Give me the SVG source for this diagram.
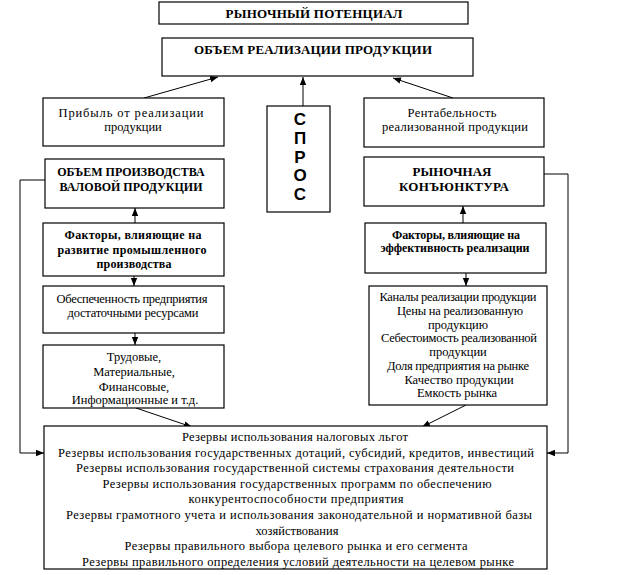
<svg xmlns="http://www.w3.org/2000/svg" width="625" height="575" viewBox="0 0 625 575">
<defs>
<marker id="ah" markerUnits="userSpaceOnUse" markerWidth="8" markerHeight="8" viewBox="0 0 8 8" refX="8" refY="4" orient="auto">
<path d="M0,0.8 L8,4 L0,7.2 Z" fill="#000"/>
</marker>
<style>
rect{fill:#fff;stroke:#000;stroke-width:1.2}
.t text{fill:#000;text-anchor:middle}
.b{font-weight:bold;font-size:13px}
.b2{font-weight:bold;font-size:12px}
.r{font-size:12.5px}
.f{font-weight:bold;font-size:12px}
.s{font-weight:bold;font-size:17px}
#conn path{fill:none;stroke:#000;stroke-width:1}
</style>
</defs>
<rect width="625" height="575" style="fill:#fff;stroke:none"/>

<g id="conn">
<path d="M144,98 L218,77" marker-end="url(#ah)"/>
<path d="M303,106 L303,77" marker-end="url(#ah)"/>
<path d="M453,98 L393,78" marker-end="url(#ah)"/>
<path d="M135,223 L135,208" marker-end="url(#ah)"/>
<path d="M134,276 L134,286" marker-end="url(#ah)"/>
<path d="M135,333 L135,345" marker-end="url(#ah)"/>
<path d="M463,223 L463,206" marker-end="url(#ah)"/>
<path d="M466,273 L466,286" marker-end="url(#ah)"/>
<path d="M136,408 L192,427" marker-end="url(#ah)"/>
<path d="M466,405 L422,427" marker-end="url(#ah)"/>
<path d="M45,180 L20,180 L20,453 L44,453" marker-end="url(#ah)"/>
<path d="M544,174 L568,174 L568,453 L547,453" marker-end="url(#ah)"/>
</g>

<g class="t" font-family="Times New Roman, Liberation Serif, serif">
<g id="potential">
<rect x="159" y="2" width="309" height="22"/>
<text class="b" x="314" y="18" textLength="177" lengthAdjust="spacing">РЫНОЧНЫЙ ПОТЕНЦИАЛ</text>
</g>

<g id="sales-volume">
<rect x="162" y="38" width="311" height="38"/>
<text class="b" x="313" y="54" textLength="238" lengthAdjust="spacing">ОБЪЕМ РЕАЛИЗАЦИИ ПРОДУКЦИИ</text>
</g>

<g id="profit">
<rect x="43" y="98" width="181" height="48"/>
<text class="r" x="131" y="117" textLength="145" lengthAdjust="spacing">Прибыль от реализации</text>
<text class="r" x="133" y="131">продукции</text>
</g>

<g id="demand" font-family="Arial, Liberation Sans, sans-serif">
<rect x="267" y="106" width="63" height="106"/>
<text class="s" x="300" y="125">С</text>
<text class="s" x="300" y="144">П</text>
<text class="s" x="300" y="163">Р</text>
<text class="s" x="300" y="181">О</text>
<text class="s" x="300" y="200">С</text>
</g>

<g id="profitability">
<rect x="364" y="98" width="180" height="49"/>
<text class="r" x="452" y="117" textLength="89" lengthAdjust="spacing">Рентабельность</text>
<text class="r" x="455" y="131" textLength="146" lengthAdjust="spacing">реализованной продукции</text>
</g>

<g id="production-volume">
<rect x="45" y="159" width="179" height="49"/>
<text class="b2" x="131" y="176">ОБЪЕМ ПРОИЗВОДСТВА</text>
<text class="b2" x="131" y="191">ВАЛОВОЙ ПРОДУКЦИИ</text>
</g>

<g id="market-conditions">
<rect x="364" y="157" width="180" height="49"/>
<text class="b" x="452" y="176" textLength="79" lengthAdjust="spacing">РЫНОЧНАЯ</text>
<text class="b" x="454" y="191" textLength="110" lengthAdjust="spacing">КОНЪЮНКТУРА</text>
</g>

<g id="factors-production">
<rect x="43" y="223" width="181" height="53"/>
<text class="f" x="133" y="239" textLength="137" lengthAdjust="spacing">Факторы, влияющие на</text>
<text class="f" x="132" y="254" textLength="149" lengthAdjust="spacing">развитие промышленного</text>
<text class="f" x="134" y="268" textLength="75" lengthAdjust="spacing">производства</text>
</g>

<g id="resources">
<rect x="43" y="286" width="181" height="47"/>
<text class="r" x="132" y="303" textLength="151" lengthAdjust="spacing">Обеспеченность предприятия</text>
<text class="r" x="133" y="317" textLength="131" lengthAdjust="spacing">достаточными ресурсами</text>
</g>

<g id="resource-types">
<rect x="43" y="345" width="181" height="63"/>
<text class="r" x="134" y="361">Трудовые,</text>
<text class="r" x="134" y="376">Материальные,</text>
<text class="r" x="134" y="391">Финансовые,</text>
<text class="r" x="135" y="404">Информационные и т.д.</text>
</g>

<g id="factors-sales">
<rect x="365" y="223" width="181" height="50"/>
<text class="f" x="456" y="239" textLength="128" lengthAdjust="spacing">Факторы, влияющие на</text>
<text class="f" x="455" y="252" textLength="149" lengthAdjust="spacing">эффективность реализации</text>
</g>

<g id="sales-factors-list">
<rect x="369" y="286" width="178" height="119"/>
<text class="r" x="458" y="301" textLength="157" lengthAdjust="spacing">Каналы реализации продукции</text>
<text class="r" x="460" y="315" textLength="126" lengthAdjust="spacing">Цены на реализованную</text>
<text class="r" x="458" y="329">продукцию</text>
<text class="r" x="459" y="342" textLength="156" lengthAdjust="spacing">Себестоимость реализованной</text>
<text class="r" x="458" y="356">продукции</text>
<text class="r" x="458" y="370" textLength="142" lengthAdjust="spacing">Доля предприятия на рынке</text>
<text class="r" x="459" y="384">Качество продукции</text>
<text class="r" x="457" y="397">Емкость рынка</text>
</g>

<g id="reserves">
<rect x="44" y="426" width="503" height="143"/>
<text class="r" x="295" y="441" textLength="226" lengthAdjust="spacing">Резервы использования налоговых льгот</text>
<text class="r" x="296" y="457" textLength="476" lengthAdjust="spacing">Резервы использования государственных дотаций, субсидий, кредитов, инвестиций</text>
<text class="r" x="295" y="472" textLength="438" lengthAdjust="spacing">Резервы использования государственной системы страхования деятельности</text>
<text class="r" x="297" y="488" textLength="389" lengthAdjust="spacing">Резервы использования государственных программ по обеспечению</text>
<text class="r" x="296" y="503" textLength="215" lengthAdjust="spacing">конкурентоспособности предприятия</text>
<text class="r" x="299" y="519" textLength="466" lengthAdjust="spacing">Резервы грамотного учета и использования законодательной и нормативной базы</text>
<text class="r" x="297" y="535">хозяйствования</text>
<text class="r" x="296" y="550" textLength="343" lengthAdjust="spacing">Резервы правильного выбора целевого рынка и его сегмента</text>
<text class="r" x="298" y="566" textLength="432" lengthAdjust="spacing">Резервы правильного определения условий деятельности на целевом рынке</text>
</g>
</g>
</svg>
